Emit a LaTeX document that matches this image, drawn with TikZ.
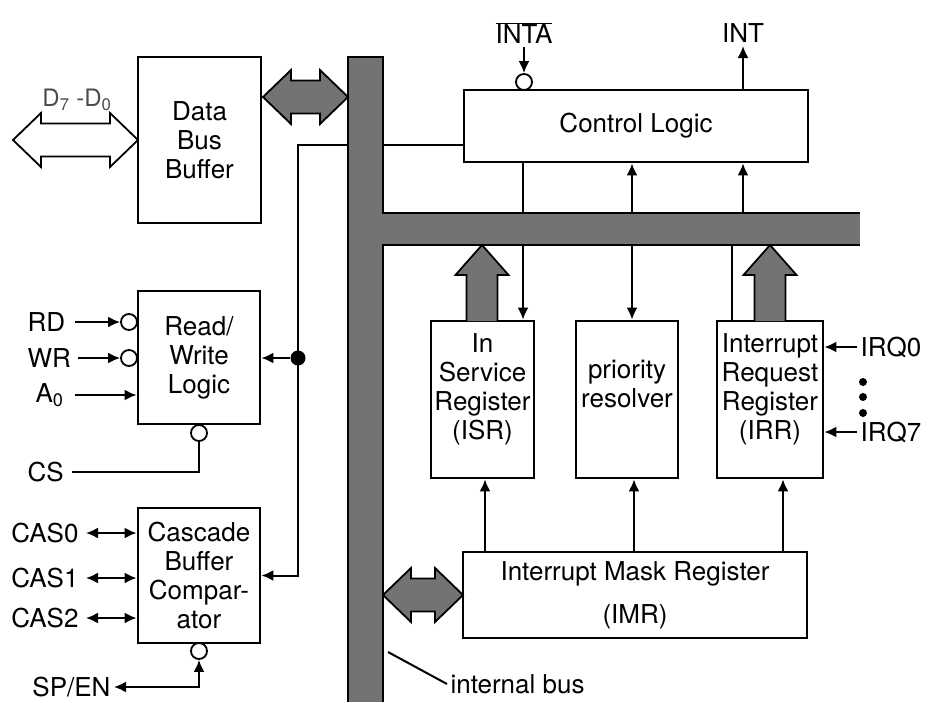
\documentclass[tikz,border=0pt]{standalone}
\usepackage{fontspec}
\setmainfont{TeX Gyre Heros}
\usepackage{tikz}
\usetikzlibrary{arrows.meta}
% fat bus arrows (pixel units)
\newcommand{\fatdarrow}[4][black!55]{%
  \filldraw[fill=#1, line width=1.8pt] (#2,#4) -- (#2+28,#4-27) -- (#2+28,#4-16.5)
    -- (#3-28,#4-16.5) -- (#3-28,#4-27) -- (#3,#4) -- (#3-28,#4+27) -- (#3-28,#4+16.5)
    -- (#2+28,#4+16.5) -- (#2+28,#4+27) -- cycle;}
\newcommand{\fatuparrow}[3]{%
  \filldraw[fill=black!55, line width=1.8pt] (#1-15.5,#2) -- (#1-15.5,#3+30) -- (#1-26.5,#3+30)
    -- (#1,#3) -- (#1+26.5,#3+30) -- (#1+15.5,#3+30) -- (#1+15.5,#2);}
\tikzset{
  blk/.style={draw, line width=2.8pt, fill=white, align=center, inner sep=0pt},
  wire/.style={line width=2pt},
  arr/.style={wire, -{Latex[length=12pt,width=11pt]}},
  darr/.style={wire, {Latex[length=12pt,width=11pt]}-{Latex[length=12pt,width=11pt]}},
  bubble/.style={circle, draw, line width=1.8pt, fill=white, minimum size=16pt, inner sep=0pt},
  dot/.style={circle, fill, minimum size=15pt, inner sep=0pt}
}

\begin{document}
\begin{tikzpicture}[x=1pt, y=-1pt, every node/.style={font=\fontsize{26}{29}\selectfont}]
  \useasboundingbox (0,0) rectangle (940,702);

  % internal bus
  \fill[black!55] (348,57) rectangle (383,702);
  \fill[black!55] (383,213) rectangle (860,245);
  \draw[wire] (348,702) -- (348,57) -- (383,57) -- (383,213) -- (860,213);
  \draw[wire] (860,245) -- (383,245) -- (383,702);
  \coordinate (hbtop) at (0,213);
  \coordinate (hbbot) at (0,245);

  % blocks
  \node[blk, minimum width=123pt, minimum height=166pt] (dbb) at (199.5,140) {Data\\Bus\\Buffer};
  \node[blk, minimum width=122pt, minimum height=133pt] (rwl) at (199,357.5) {Read/\\Write\\Logic};
  \node[blk, minimum width=122pt, minimum height=135pt] (cbc) at (199,575.5) {Cascade\\Buffer\\Compar-\\ator};
  \node[blk, minimum width=344pt, minimum height=72pt] (ctrl) at (636,126) {Control Logic};
  \node[blk, minimum width=103pt, minimum height=157pt,
        label={[align=center, yshift=10pt]center:In\\Service\\Register\\(ISR)}] (isr) at (482.5,399.5) {};
  \node[blk, minimum width=102pt, minimum height=157pt,
        label={[align=center, yshift=16pt]center:priority\\resolver}] (prio) at (627,399.5) {};
  \node[blk, minimum width=106pt, minimum height=157pt,
        label={[align=center, yshift=10pt]center:Interrupt\\Request\\Register\\(IRR)}] (irr) at (770,399.5) {};
  \node[blk, minimum width=344pt, minimum height=86pt] (imr) at (635,595) {Interrupt Mask Register\\[14pt](IMR)};

  % bus arrows
  \fatdarrow[white]{13}{138}{140}
  \fatdarrow{263}{348}{97}
  \fatdarrow{383}{463}{595}
  \fatuparrow{482}{321}{245}
  \fatuparrow{770}{321}{245}

  % pins
  \node[font=\fontsize{24}{26}\selectfont, text=black!70] (dlbl) at (77,100) {D\textsubscript{7} -D\textsubscript{0}};
  \node (inta) at (524,33) {$\overline{\hbox{INTA}}$};
  \node (int) at (743,33) {INT};
  \node[bubble] (intab) at (524,82) {};
  \draw[arr] (inta) -- (intab);
  \draw[arr] (ctrl.north -| int) -- (int);

  \node[anchor=west] (rd) at (24,322) {RD};
  \node[anchor=west] (wr) at (24,358) {WR};
  \node[anchor=west] (a0) at (32,395) {A\textsubscript{0}};
  \node[anchor=west] (cs) at (24,472) {CS};
  \node[bubble] (rdb) at (129,322) {};
  \node[bubble] (wrb) at (129,358) {};
  \node[bubble] (csb) at (199,433) {};
  \draw[arr, shorten <=6pt] (rd) -- (rdb);
  \draw[arr, shorten <=4pt] (wr) -- (wrb);
  \draw[arr, shorten <=8pt] (a0.east |- 0,395) -- (rwl.west |- 0,395);
  \draw[wire, shorten >=5pt] (csb) |- (cs);

  \node[anchor=east] (cas0) at (82,533) {CAS0};
  \node[anchor=east] (cas1) at (82,578) {CAS1};
  \node[anchor=east] (cas2) at (82,618) {CAS2};
  \node[anchor=east] (spen) at (114,687) {SP/EN};
  \node[bubble] (spb) at (199,651) {};
  \draw[darr, shorten <=4pt] (cas0) -- (cas0 -| cbc.west);
  \draw[darr, shorten <=4pt] (cas1) -- (cas1 -| cbc.west);
  \draw[darr, shorten <=4pt] (cas2) -- (cas2 -| cbc.west);
  \draw[darr] (spb) |- (spen);

  % internal control wiring
  \node[dot] (tap) at (298,358) {};
  \coordinate (busl) at (348,145);
  \coordinate (busr) at (383,145);
  \draw[arr] (busl) -| (tap.center) |- (cbc.east);
  \draw[arr] (tap) -- (rwl.east |- tap);
  \draw[wire] (busr) -- (busr -| ctrl.west);

  \coordinate (xa) at (523,0);
  \coordinate (xb) at (632,0);
  \coordinate (xc) at (743,0);
  \coordinate (xd) at (732,0);
  \draw[wire] (ctrl.south -| xa) -- (hbtop -| xa);
  \draw[arr] (hbbot -| xa) -- (isr.north -| xa);
  \draw[arr] (hbtop -| xb) -- (ctrl.south -| xb);
  \draw[arr] (hbbot -| xb) -- (prio.north -| xb);
  \draw[arr] (hbtop -| xc) -- (ctrl.south -| xc);
  \draw[wire] (hbbot -| xd) -- (irr.north -| xd);

  \coordinate (xe) at (485,0);
  \coordinate (xf) at (634,0);
  \coordinate (xg) at (783,0);
  \draw[arr] (imr.north -| xe) -- (isr.south -| xe);
  \draw[arr] (imr.north -| xf) -- (prio.south -| xf);
  \draw[arr] (imr.north -| xg) -- (irr.south -| xg);

  % interrupt requests
  \node[anchor=west] (irq0) at (857,347) {IRQ0};
  \node[anchor=west] (irq7) at (857,432) {IRQ7};
  \draw[arr] (irq0) -- (irq0 -| irr.east);
  \draw[arr] (irq7) -- (irq7 -| irr.east);
  \fill (863,382) circle (4pt) (863,397) circle (4pt) (863,413) circle (4pt);

  \node[anchor=west] (ibus) at (447,684) {internal bus};
  \draw[wire] (ibus.west) -- (388,652);
\end{tikzpicture}
\end{document}
